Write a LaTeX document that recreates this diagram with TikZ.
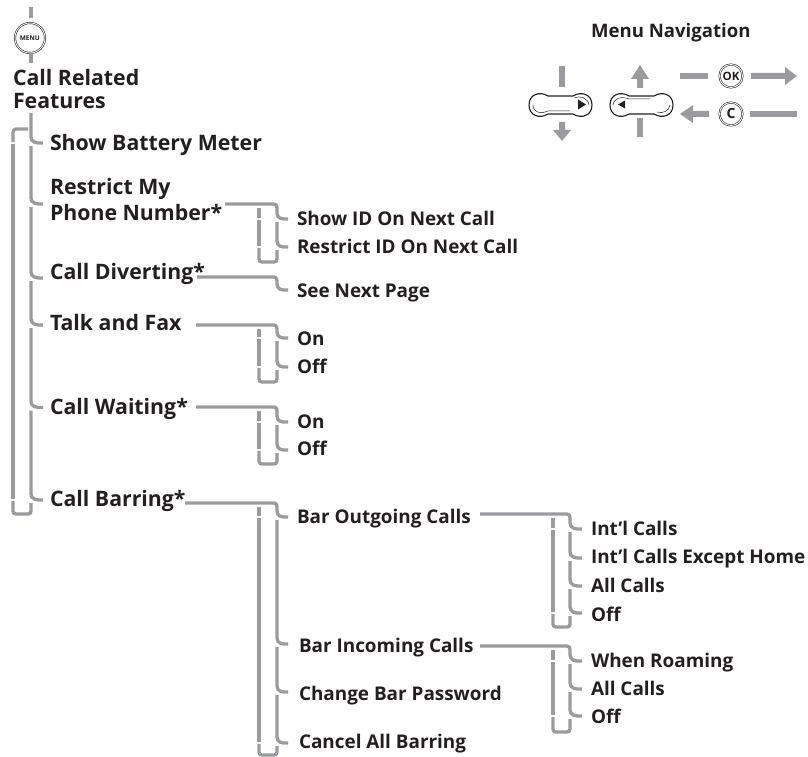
\documentclass[tikz,border=0pt]{standalone}
\usepackage{fontspec}
\setmainfont{Open Sans}
\definecolor{linegray}{HTML}{9A9B9F}
\definecolor{ink}{HTML}{231F20}
\tikzset{
  conn/.style={draw=linegray,line width=3.3pt,line cap=butt,line join=round},
  item/.style={anchor=west,inner ysep=0pt,outer sep=0pt,text=ink,text depth=0pt,font=\bfseries},
  mainitem/.style={item,inner xsep=7pt,font=\fontsize{21.3}{24}\selectfont\bfseries},
  subitem/.style={item,inner xsep=9pt,font=\fontsize{18.9}{21}\selectfont\bfseries},
  subitemb/.style={subitem,inner xsep=11pt},
  capdrop/.style={text height=#1pt},
  plain/.style={anchor=base west,inner sep=0pt,outer sep=0pt,text=ink,font=\fontsize{21.3}{24}\selectfont\bfseries},
  keyring/.style={circle,draw=ink,line width=.55pt,double=white,double distance=.9pt,fill=white,inner sep=0pt,minimum size=#1pt,text=ink},
  pill/.style={draw=ink,line width=1.1pt,fill=white},
  pillin/.style={draw=ink,line width=.5pt},
  gfill/.style={fill=linegray,draw=none},
  blackfill/.style={fill=ink,draw=none}
}
% #1 previous tip node, #2 right rail, #3 this tip node
\newcommand\stub[3]{\draw[conn] ([yshift=-3pt]#1.west -| #2) -- ([yshift=6pt]#3.west -| #2) .. controls ([yshift=1pt]#3.west -| #2) and ([xshift=-7pt,yshift=-.5pt]#3.west) .. (#3.west);}
% #1 start coordinate, #2 right rail, #3 first tip node
\newcommand\head[3]{\draw[conn] (#1) -- ([xshift=-7pt]#1 -| #2) .. controls (#1 -| #2) .. ([yshift=-7pt]#1 -| #2) -- ([yshift=6pt]#3.west -| #2) .. controls ([yshift=1pt]#3.west -| #2) and ([xshift=-7pt,yshift=-.5pt]#3.west) .. (#3.west);}
% #1 start coordinate, #2 first tip, #3 last tip, #4 bottom-left coordinate, #5 right rail
\newcommand\backrail[5]{%
  \draw[conn] ([yshift=-4pt]#1 -| #4) -- ([yshift=.8pt]#2.west -| #4);
  \draw[conn] ([yshift=-.8pt]#2.west -| #4) -- ([yshift=.8pt]#3.west -| #4);
  \draw[conn] ([yshift=-.8pt]#3.west -| #4) -- ([yshift=6pt]#4) .. controls (#4) .. ([xshift=6pt]#4) -- ([xshift=-6pt]#4 -| #5) .. controls (#4 -| #5) .. ([yshift=6pt]#4 -| #5) -- ([yshift=-3pt]#3.west -| #5);}
\begin{document}
\begin{tikzpicture}[x=1pt,y=-1pt]
\useasboundingbox (0,0) rectangle (808,757);
% rails
\coordinate (R0) at (31,0);
\coordinate (R1) at (277,0);
\coordinate (R2) at (570,0);
% top of tree
\draw[conn] (31,7) -- (31,18);
\node[keyring=30,font=\fontsize{6.5}{7}\selectfont\bfseries] (menu) at (30,38) {\kern-.3pt MENU};
\coordinate (menuend) at (31,63);
\draw[conn] (menu.south -| R0) -- (menuend);
\node[plain] (crf1) at (13,86) {Call Related};
\node[plain] (crf2) at (13,109) {Features};
\coordinate (trunk) at (31,113);
% level 1
\node[mainitem,capdrop=14] (show) at (43,143) {Show Battery Meter};
\node[plain] (rmy) at (50,194) {Restrict My};
\node[mainitem,capdrop=32] (phone) at (43,204) {Phone Number*};
\node[mainitem,capdrop=2] (divert) at (43,278) {Call Diverting*};
\node[mainitem,capdrop=10] (fax) at (43,325) {Talk and Fax};
\node[mainitem,capdrop=14] (wait) at (43,407.5) {Call Waiting*};
\node[mainitem,capdrop=12] (bar) at (43,500) {Call Barring*};
\draw[conn] (trunk) -- ([yshift=6pt]show.west -| R0) .. controls ([yshift=1pt]show.west -| R0) and ([xshift=-7pt,yshift=-.5pt]show.west) .. (show.west);
\stub{show}{R0}{phone}
\stub{phone}{R0}{divert}
\stub{divert}{R0}{fax}
\stub{fax}{R0}{wait}
\stub{wait}{R0}{bar}
% outer left rail
\coordinate (hooktop) at (28,129);
\coordinate (hookbot) at (13,514);
\draw[conn] (hooktop) -- (20,129) .. controls (13,129) .. (13,136) -- ([yshift=.8pt]show.west -| hookbot);
\draw[conn] ([yshift=-.8pt]show.west -| hookbot) -- ([yshift=.8pt]bar.west -| hookbot);
\draw[conn] ([yshift=-.8pt]bar.west -| hookbot) -- ([yshift=6pt]hookbot) .. controls (hookbot) .. ([xshift=6pt]hookbot) -- ([xshift=-6pt]hookbot -| R0) .. controls (hookbot -| R0) .. ([yshift=6pt]hookbot -| R0) -- ([yshift=-3pt]bar.west -| R0);
% restrict number
\coordinate (s1) at (225,204);
\coordinate (b1) at (259,262);
\node[subitem,capdrop=12] (showid) at (288,219) {Show ID On Next Call};
\node[subitem,capdrop=12] (restid) at (288,247) {Restrict ID On Next Call};
\head{s1}{R1}{showid}
\stub{showid}{R1}{restid}
\backrail{s1}{showid}{restid}{b1}{R1}
% diverting
\coordinate (s2) at (197,277);
\node[subitem,capdrop=14] (next) at (288,290) {See Next Page};
\head{s2}{R1}{next}
% fax
\coordinate (s3) at (196,325);
\coordinate (b3) at (259,382);
\node[subitem,capdrop=14] (on1) at (288,338) {On};
\node[subitem,capdrop=12] (off1) at (288,367) {Off};
\head{s3}{R1}{on1}
\stub{on1}{R1}{off1}
\backrail{s3}{on1}{off1}{b3}{R1}
% waiting
\coordinate (s4) at (196,407);
\coordinate (b4) at (259,464);
\node[subitem,capdrop=12] (on2) at (288,422) {On};
\node[subitem,capdrop=10] (off2) at (288,450) {Off};
\head{s4}{R1}{on2}
\stub{on2}{R1}{off2}
\backrail{s4}{on2}{off2}{b4}{R1}
% barring
\coordinate (s5) at (185,503);
\coordinate (b5) at (259,755);
\node[subitem,capdrop=12] (out) at (288,517) {Bar Outgoing Calls};
\node[subitemb,capdrop=16] (inc) at (288,644) {Bar Incoming Calls};
\node[subitemb,capdrop=16] (chg) at (288,692) {Change Bar Password};
\node[subitemb,capdrop=10] (can) at (288,743) {Cancel All Barring};
\head{s5}{R1}{out}
\stub{out}{R1}{inc}
\stub{inc}{R1}{chg}
\stub{chg}{R1}{can}
\backrail{s5}{out}{can}{b5}{R1}
% outgoing
\coordinate (s6) at (480,514);
\coordinate (b6) at (553,627);
\node[subitem,capdrop=12] (o1) at (582,529) {Int'l Calls};
\node[subitem,capdrop=10] (o2) at (582,558) {Int'l Calls Except Home};
\node[subitem,capdrop=12] (o3) at (582,586) {All Calls};
\node[subitem,capdrop=16] (o4) at (582,613) {Off};
\head{s6}{R2}{o1}
\stub{o1}{R2}{o2}
\stub{o2}{R2}{o3}
\stub{o3}{R2}{o4}
\backrail{s6}{o1}{o4}{b6}{R2}
% incoming
\coordinate (s7) at (480,646);
\coordinate (b7) at (553,732);
\node[subitem,capdrop=12] (i1) at (582,661) {When Roaming};
\node[subitem,capdrop=12] (i2) at (582,689) {All Calls};
\node[subitem,capdrop=14] (i3) at (582,716) {Off};
\head{s7}{R2}{i1}
\stub{i1}{R2}{i2}
\stub{i2}{R2}{i3}
\backrail{s7}{i1}{i3}{b7}{R2}
% menu navigation legend
\node[item,inner xsep=0pt,capdrop=13,font=\fontsize{18.6}{21}\selectfont\bfseries] (navtitle) at (591,31.5) {Menu Navigation};
% left pill
\fill[gfill] (559,66) rectangle (565,87);
\fill[gfill] (559,122) -- (565,122) -- (565,130) -- (571,130) -- (562,141) -- (553,130) -- (559,130) -- cycle;
\draw[pill] (548,96) .. controls (540,91) and (529,94) .. (529,105) .. controls (529,116) and (540,119) .. (548,114) -- (573,114) .. controls (581,119) and (592,116) .. (592,105) .. controls (592,94) and (581,91) .. (573,96) -- cycle;
\draw[pillin] (533,105) .. controls (533,113) and (541,114) .. (548,111) -- (570,111);
\draw[pillin] (574,98) .. controls (580,95) and (588,98) .. (589,105);
\fill[blackfill] (578,99.5) -- (586,104.5) -- (578,109.5) -- cycle;
% right pill
\fill[gfill] (637,118) rectangle (643,137);
\fill[gfill] (637,88) -- (643,88) -- (643,79) -- (649,79) -- (640,65) -- (631,79) -- (637,79) -- cycle;
\draw[pill] (629,96) .. controls (621,91) and (610,94) .. (610,105) .. controls (610,116) and (621,119) .. (629,114) -- (654,114) .. controls (662,119) and (673,116) .. (673,105) .. controls (673,94) and (662,91) .. (654,96) -- cycle;
\draw[pillin] (613,105) .. controls (614,98) and (621,96) .. (629,99) -- (650,99);
\draw[pillin] (657,112) .. controls (663,114) and (669,111) .. (670,105);
\fill[blackfill] (625,100.5) -- (618,104.5) -- (625,108.5) -- cycle;
% OK row
\fill[gfill] (680,73) rectangle (708,79);
\node[keyring=23,font=\fontsize{11.5}{12}\selectfont\bfseries] (okk) at (731,76) {OK};
\fill[gfill] (751,73) -- (785,73) -- (785,67) -- (797,76) -- (785,85) -- (785,79) -- (751,79) -- cycle;
% C row
\fill[gfill] (709,111) -- (693,111) -- (693,105) -- (680,114) -- (693,123) -- (693,117) -- (709,117) -- cycle;
\node[keyring=23,font=\fontsize{14}{14}\selectfont\bfseries] (cancelkey) at (731,114) {C};
\fill[gfill] (750,111) rectangle (797,117);
\end{tikzpicture}
\end{document}
